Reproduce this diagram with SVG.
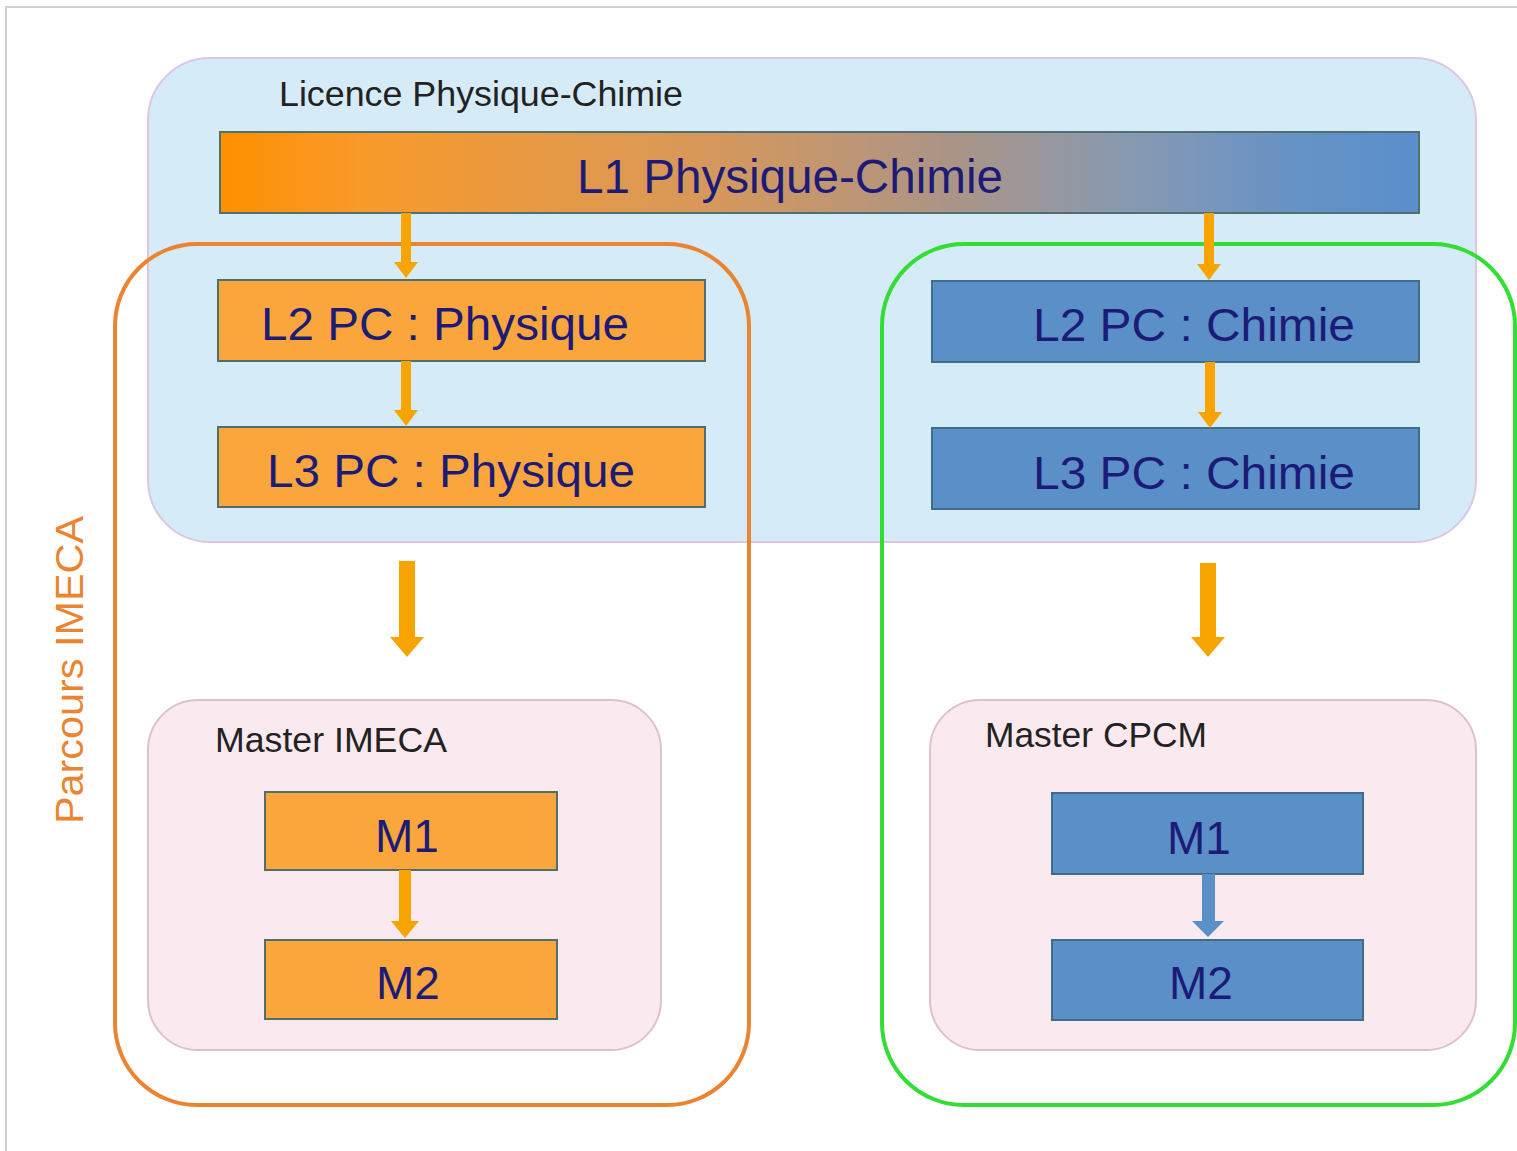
<svg xmlns="http://www.w3.org/2000/svg" width="1517" height="1151" viewBox="0 0 1517 1151">
  <defs>
    <linearGradient id="l1grad" x1="0" y1="0" x2="1" y2="0">
      <stop offset="0" stop-color="#ff9000"/>
      <stop offset="0.12" stop-color="#f89a2a"/>
      <stop offset="0.4" stop-color="#d8985a"/>
      <stop offset="0.62" stop-color="#a99488"/>
      <stop offset="0.75" stop-color="#8a9ab0"/>
      <stop offset="0.9" stop-color="#6592c6"/>
      <stop offset="1" stop-color="#5a8fcb"/>
    </linearGradient>
    <style>
      .frame { fill: none; stroke: #d2d2d2; stroke-width: 2; }
      .licence { fill: #d5ebf8; stroke: #dcc6e0; stroke-width: 2; }
      .master { fill: #fbe9f0; stroke: #dcc2cf; stroke-width: 2; }
      .parcours-orange { fill: none; stroke: #eb8430; stroke-width: 4; }
      .parcours-green { fill: none; stroke: #33dd33; stroke-width: 4; }
      .orange { fill: #fba63c; stroke: #4f6f6a; stroke-width: 2; }
      .blue { fill: #5b8fc8; stroke: #3f6f86; stroke-width: 2; }
      .grad { fill: url(#l1grad); stroke: #4f7070; stroke-width: 2; }
      .big { font-family: "Liberation Sans", Arial, sans-serif; fill: #1c1c78; text-anchor: middle; }
      .label { font-family: "Liberation Sans", Arial, sans-serif; fill: #222222; font-size: 35px; }
      .vlabel { font-family: "Liberation Sans", Arial, sans-serif; fill: #eb8430; font-size: 38px; text-anchor: middle; }
      .arr { fill: #f7a400; }
      .arrb { fill: #5b8fc8; }
    </style>
  </defs>

  <rect x="0" y="0" width="1517" height="1151" fill="#ffffff"/>
  <path class="frame" d="M6 1151 V7 H1517"/>

  <g id="licence-physique-chimie">
    <rect class="licence" x="148" y="58" width="1328" height="484" rx="62" ry="62"/>
    <text class="label" x="279" y="106" textLength="404" lengthAdjust="spacingAndGlyphs">Licence Physique-Chimie</text>
  </g>

  <g id="parcours-imeca">
    <rect class="parcours-orange" x="115" y="244" width="634" height="861" rx="82" ry="82"/>
    <text class="vlabel" transform="translate(83,670) rotate(-90)" textLength="308" lengthAdjust="spacingAndGlyphs">Parcours IMECA</text>
  </g>

  <g id="parcours-cpcm">
    <rect class="parcours-green" x="882" y="244" width="633" height="861" rx="82" ry="82"/>
  </g>

  <g id="l1">
    <rect class="grad" x="220" y="132" width="1199" height="81"/>
    <text class="big" x="790" y="193" font-size="48" textLength="426" lengthAdjust="spacingAndGlyphs">L1 Physique-Chimie</text>
  </g>

  <g id="l2-physique">
    <rect class="orange" x="218" y="280" width="487" height="81"/>
    <text class="big" x="445" y="340" font-size="46" textLength="368" lengthAdjust="spacingAndGlyphs">L2 PC : Physique</text>
  </g>

  <g id="l3-physique">
    <rect class="orange" x="218" y="427" width="487" height="80"/>
    <text class="big" x="451" y="487" font-size="46" textLength="368" lengthAdjust="spacingAndGlyphs">L3 PC : Physique</text>
  </g>

  <g id="l2-chimie">
    <rect class="blue" x="932" y="281" width="487" height="81"/>
    <text class="big" x="1194" y="341" font-size="46" textLength="322" lengthAdjust="spacingAndGlyphs">L2 PC : Chimie</text>
  </g>

  <g id="l3-chimie">
    <rect class="blue" x="932" y="428" width="487" height="81"/>
    <text class="big" x="1194" y="489" font-size="46" textLength="322" lengthAdjust="spacingAndGlyphs">L3 PC : Chimie</text>
  </g>

  <g id="master-imeca">
    <rect class="master" x="148" y="700" width="513" height="350" rx="50" ry="50"/>
    <text class="label" x="215" y="752" textLength="232" lengthAdjust="spacingAndGlyphs">Master IMECA</text>
  </g>

  <g id="master-cpcm">
    <rect class="master" x="930" y="700" width="546" height="350" rx="50" ry="50"/>
    <text class="label" x="985" y="747" textLength="222" lengthAdjust="spacingAndGlyphs">Master CPCM</text>
  </g>

  <g id="m1-imeca">
    <rect class="orange" x="265" y="792" width="292" height="78"/>
    <text class="big" x="407" y="852" font-size="46">M1</text>
  </g>

  <g id="m2-imeca">
    <rect class="orange" x="265" y="940" width="292" height="79"/>
    <text class="big" x="408" y="999" font-size="46">M2</text>
  </g>

  <g id="m1-cpcm">
    <rect class="blue" x="1052" y="793" width="311" height="81"/>
    <text class="big" x="1199" y="854" font-size="46">M1</text>
  </g>

  <g id="m2-cpcm">
    <rect class="blue" x="1052" y="940" width="311" height="80"/>
    <text class="big" x="1201" y="999" font-size="46">M2</text>
  </g>

  <g id="connectors">
    <polygon class="arr" points="401,213 411,213 411,262 418,262 406,278 394,262 401,262"/>
    <polygon class="arr" points="1204,213 1214,213 1214,264 1221,264 1209,280 1197,264 1204,264"/>
    <polygon class="arr" points="401,361 411,361 411,410 418,410 406,426 394,410 401,410"/>
    <polygon class="arr" points="1205,362 1215,362 1215,412 1222,412 1210,428 1198,412 1205,412"/>
    <polygon class="arr" points="399,561 415,561 415,637 424,637 407,657 390,637 399,637"/>
    <polygon class="arr" points="1200,563 1216,563 1216,637 1225,637 1208,657 1191,637 1200,637"/>
    <polygon class="arr" points="399,870 411,870 411,921 419,921 405,938 391,921 399,921"/>
    <polygon class="arrb" points="1202,874 1215,874 1215,921 1224,921 1208,937 1192,921 1202,921"/>
  </g>
</svg>
